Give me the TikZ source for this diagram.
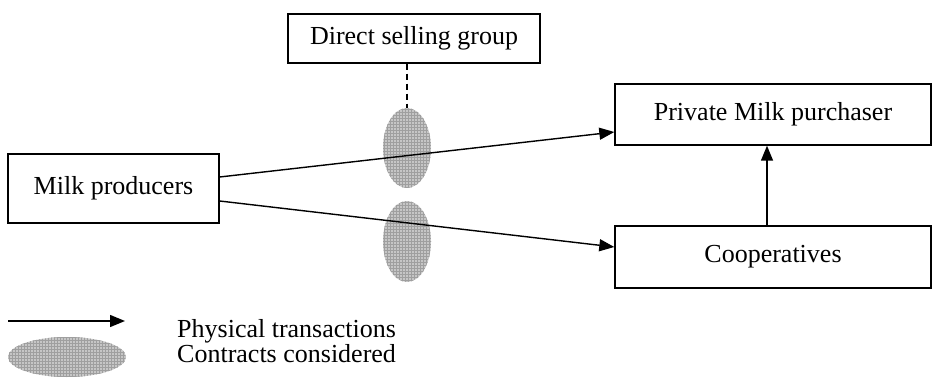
\documentclass[tikz,border=0pt]{standalone}
\usepackage{fontspec}
\setmainfont{Liberation Serif}
\usetikzlibrary{arrows.meta,patterns,shapes.geometric}
\begin{document}
\begin{tikzpicture}[x=1pt,y=-1pt,
  box/.style={draw,line width=1.4pt,rectangle,inner sep=0pt,font=\fontsize{26}{30}\selectfont},
  blob/.style={ellipse,inner sep=0pt,fill=gray!45,postaction={pattern=grid,pattern color=gray!75}},
  flow/.style={line width=1.4pt,-{Triangle[length=15pt,width=12pt]}},
  lbl/.style={anchor=base west,inner sep=0pt,font=\fontsize{26}{30}\selectfont}]
\useasboundingbox (0,0) rectangle (933,379);
\node[box,minimum width=252pt,minimum height=49pt] (dsg) at (414,38.5) {Direct selling group};
\node[box,minimum width=211pt,minimum height=69pt] (mp) at (113.5,188.5) {Milk producers};
\node[box,minimum width=316pt,minimum height=61pt] (pmp) at (773,114.5) {Private Milk purchaser};
\node[box,minimum width=316pt,minimum height=62pt] (coop) at (773,257) {Cooperatives};
\node[blob,minimum width=48pt,minimum height=80pt] (e1) at (407,148) {};
\node[blob,minimum width=48pt,minimum height=81pt] (e2) at (407,241.5) {};
\draw[line width=1.4pt,dash pattern=on 6pt off 4pt] (dsg.south -| e1.north) -- (e1.north);
\draw[flow] ([yshift=11.5pt]mp.east) -- ([yshift=-17.5pt]pmp.west);
\draw[flow] ([yshift=-12.5pt]mp.east) -- ([yshift=10pt]coop.west);
\draw[flow] ([xshift=-6pt]coop.north) -- ([xshift=-6pt]pmp.south);
\coordinate (la) at (8,321);
\coordinate (lb) at (125,321);
\draw[flow] (la) -- (lb);
\node[blob,minimum width=118pt,minimum height=40pt] (le) at (67,357) {};
\node[lbl] (legtext) at (177,337) {\vtop{\baselineskip=25pt\lineskiplimit=-20pt\hbox{Physical transactions}\hbox{Contracts considered}}};
\end{tikzpicture}
\end{document}
